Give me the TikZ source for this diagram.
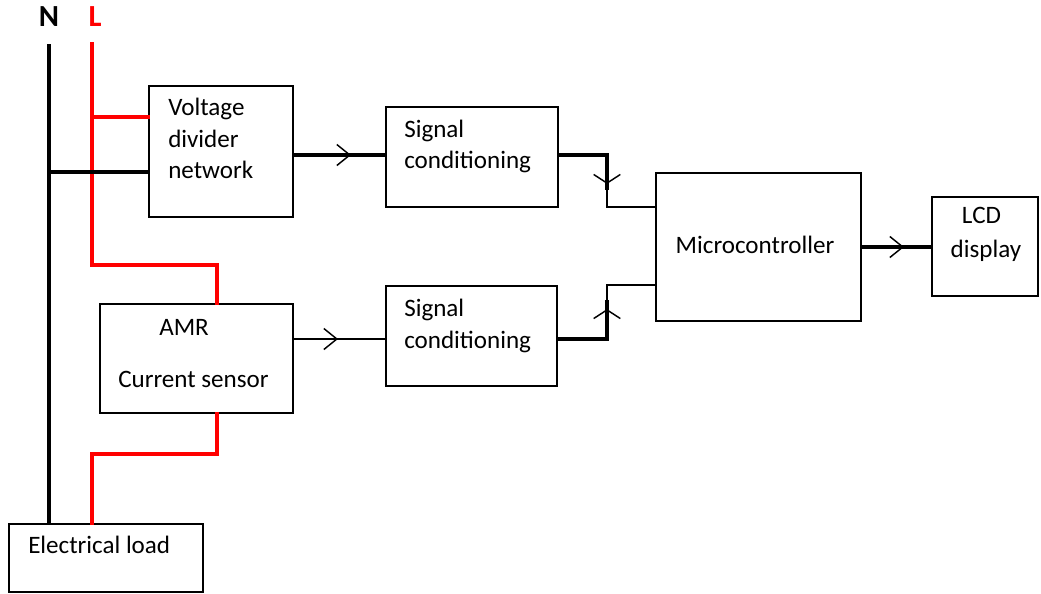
\documentclass[tikz,border=0pt]{standalone}
\usepackage{fontspec}
\setmainfont{Carlito}
\usetikzlibrary{arrows.meta,decorations.markings,fit}
\begin{document}
\begin{tikzpicture}[x=0.75pt,y=-0.75pt,
  font=\fontsize{18.8}{24}\selectfont,
  box/.style={draw, line width=1.5pt, rectangle, inner sep=0pt},
  txt/.style={anchor=base west, inner sep=0pt},
  wire/.style={line width=3pt, line cap=rect},
  live/.style={wire, red},
  sigthick/.style={line width=3pt},
  sigthin/.style={line width=2pt},
  chevh/.style={postaction=decorate, decoration={markings,
      mark=at position #1 with {\arrow{Straight Barb[length=9.75pt,width=15.75pt,line width=1.1pt]}}}},
  chevv/.style={postaction=decorate, decoration={markings,
      mark=at position #1 with {\arrow{Straight Barb[length=6.5pt,width=20pt,line width=1.1pt]}}}}
]
\useasboundingbox (0,0) rectangle (1041,593);

% blocks
\node[box, fit={(149,86) (293,217)}] (vdn) {};
\node[box, fit={(386,107) (558,207)}] (sc1) {};
\node[box, fit={(656,173) (861,321)}] (mcu) {};
\node[box, fit={(932,197) (1038,296)}] (lcd) {};
\node[box, fit={(100,304) (293,413)}] (amr) {};
\node[box, fit={(386,286) (557,386)}] (sc2) {};
\node[box, fit={(9,524) (203,592)}] (load) {};

% block texts
\node[txt] (vdn1) at (168,115) {Voltage};
\node[txt] (vdn2) at (168,147) {divider};
\node[txt] (vdn3) at (168,178) {network};
\node[txt] (sc1a) at (404,137) {Signal};
\node[txt] (sc1b) at (404,168) {conditioning};
\node[txt] (sc2a) at (404,316) {Signal};
\node[txt] (sc2b) at (404,348) {conditioning};
\node[anchor=base, inner sep=0pt] (mcut) at (755,253) {Microcontroller};
\node[anchor=base, inner sep=0pt] (lcd1) at (981.5,223) {LCD};
\node[anchor=base, inner sep=0pt] (lcd2) at (986,257) {display};
\node[txt] (amr1) at (159,335) {AMR};
\node[txt] (amr2) at (118,387) {Current sensor};
\node[txt] (loadt) at (28,553) {Electrical load};

% supply labels
\node[anchor=base, inner sep=0pt, font=\fontsize{23}{26}\selectfont\bfseries] (nlab) at (49,26) {N};
\node[anchor=base, inner sep=0pt, font=\fontsize{23}{26}\selectfont\bfseries, text=red] (llab) at (95,26) {L};

% supply wiring
\coordinate (ntop) at (49,44);
\coordinate (ltop) at (92,44);
\coordinate (lamr) at (92,265);
\coordinate (lvdn) at (92,117);
\coordinate (nvdn) at (49,172);
\coordinate (lload) at (92,454);

\draw[live] (ltop) -- (lamr) -| (amr.north -| 217,0);
\draw[live] (lvdn) -- (vdn.west |- lvdn);
\draw[live] (amr.south -| 217,0) |- (lload) -- (load.north -| lload);
\draw[wire, line cap=butt] (ntop) -- (load.north -| ntop);
\draw[wire, line cap=butt] (nvdn) -- (vdn.west |- nvdn);

% signal path
\draw[sigthick, chevh=42.75pt] (vdn.east |- 0,155) -- (sc1.west |- 0,155);
\draw[sigthin, chevh=33pt] (amr.east |- 0,339) -- (sc2.west |- 0,339);
\draw[sigthick, chevh=31.5pt] (mcu.east |- 0,247) -- (lcd.west |- 0,247);

\coordinate (b1) at (607,155);
\coordinate (b1m) at (607,190);
\coordinate (b1l) at (607,207);
\draw[sigthick, chevv=57.75pt] (sc1.east |- b1) -- (b1) -- (b1m);
\draw[sigthin] (b1m) -- (b1l) -- (mcu.west |- b1l);

\coordinate (b2) at (607,339);
\coordinate (b2m) at (607,300);
\coordinate (b2u) at (607,285);
\draw[sigthick, chevv=59.25pt] (sc2.east |- b2) -- (b2) -- (b2m);
\draw[sigthin] (b2m) -- (b2u) -- (mcu.west |- b2u);
\end{tikzpicture}
\end{document}
